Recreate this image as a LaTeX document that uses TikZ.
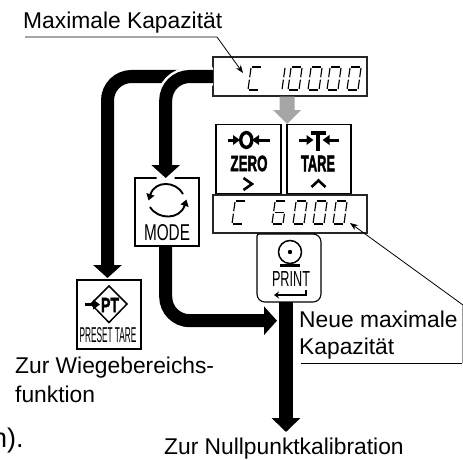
\documentclass[tikz,border=0pt]{standalone}
\usepackage{fontspec}
\setmainfont{Liberation Sans}
\newfontfamily\heavyf[FakeBold=2.5]{Liberation Sans Bold}
\usetikzlibrary{arrows.meta,shapes.geometric}
\newcommand\segT{\draw[seg] (4,-23)--(13.2,-23);}
\newcommand\segB{\draw[seg] (.8,0)--(10,0);}
\newcommand\segM{\draw[seg] (2.6,-11.5)--(11.6,-11.5);}
\newcommand\segUL{\draw[seg] (1.7,-12.8)--(3,-22);}
\newcommand\segUR{\draw[seg] (12.7,-12.8)--(14,-22);}
\newcommand\segLL{\draw[seg] (.1,-1)--(1.4,-10.3);}
\newcommand\segLR{\draw[seg] (11.1,-1)--(12.4,-10.3);}
\newcommand\dgC[2]{\begin{scope}[shift={(#1,#2)}]\segT\segB\segUL\segLL\end{scope}}
\newcommand\dgO[2]{\begin{scope}[shift={(#1,#2)}]\segT\segB\segUL\segLL\segUR\segLR\end{scope}}
\newcommand\dgI[2]{\begin{scope}[shift={(#1,#2)}]\segUR\segLR\end{scope}}
\newcommand\dgS[2]{\begin{scope}[shift={(#1,#2)}]\segT\segB\segUL\segLL\segM\segLR\end{scope}}
\tikzset{
  seg/.style={line width=1.15pt,line cap=butt},
  keybox/.style={draw=black,line width=1.1pt,minimum width=#1,inner sep=0pt,outer sep=0pt},
  dispbox/.style={draw=black!85,line width=1.1pt,inner sep=0pt,outer sep=0pt,minimum width=154pt},
  bigarrow/.style={line width=13pt,rounded corners=24pt,-{Triangle[length=13pt,width=28pt]}},
  halo/.style={line width=18pt,white,rounded corners=24pt},
  minitip/.style={line width=3pt,-{Triangle[length=7pt,width=9.5pt]}},
  leader/.style={line width=.8pt},
  label/.style={anchor=base west,inner sep=0pt,font=\fontsize{22.8}{26}\selectfont}
}
\begin{document}
\begin{tikzpicture}[x=1pt,y=-1pt]
\useasboundingbox (0,0) rectangle (463,460);
% boxes
\node[dispbox,minimum height=39pt] (disp1) at (290,76.5) {};
\node[dispbox,minimum height=38pt] (disp2) at (290,214) {};
\node[keybox=65pt,minimum height=69pt] (zero) at (248.5,159) {};
\node[keybox=64pt,minimum height=69pt] (tare) at (319,159) {};
\node[keybox=64pt,minimum height=68pt] (mode) at (167,212) {};
\node[keybox=64pt,minimum height=69pt] (preset) at (109,314.5) {};
\coordinate (printc) at (289,268);
\draw[line width=1.1pt,rounded corners=2pt] (257,234) -- (313,234) [rounded corners=8pt] -- (321,234) -- (321,302) -- (257,302) [rounded corners=2pt] -- cycle;
\node[inner sep=0pt,minimum width=64pt,minimum height=68pt] (print) at (printc) {};
% black arrows
\coordinate (presetin) at (107.5,278);
\coordinate (modein) at (165.7,178);
\coordinate (modebot) at (165.7,246);
\coordinate (printin) at (277,320.7);
\coordinate (printbot) at (286,302);
\coordinate (nullpt) at (286,432);
\draw[bigarrow] (disp1.west) -| (presetin);
\draw[halo] (disp1.west) -| ([yshift=-15pt]modein);
\draw[bigarrow] (disp1.west) -| (modein);
\draw[bigarrow] (modebot) |- (printin);
\draw[line width=14pt,-{Triangle[length=14pt,width=28pt]}] (printbot) -- (nullpt);
% grey arrow
\fill[black!35] (279.5,96.5) -- (294.5,96.5) -- (294.5,110) -- (301,110) -- (287,124) -- (273,110) -- (279.5,110) -- cycle;
% seven-segment digits
\dgC{248}{90}\dgI{271}{90}\dgO{288}{90}\dgO{308}{90}\dgO{327}{90}\dgO{347}{90}
\dgC{232}{224}\dgS{272}{224}\dgO{293}{224}\dgO{313}{224}\dgO{333}{224}
% ZERO
\draw[line width=3.4pt] (246.3,140) ellipse (5.6pt and 7.4pt);
\draw[minitip] (228,140) -- (240,140);
\draw[minitip] (269.5,140) -- (252,140);
\node[inner sep=0pt] (zerot) at (249,163.5) {\resizebox{37pt}{15.5pt}{\heavyf ZERO}};
\draw[line width=2.6pt] (243.5,178) -- (252,184) -- (243.5,190);
% TARE
\draw[line width=4pt] (310.5,133) -- (325.5,133) (318,132) -- (318,151);
\draw[minitip] (299,140) -- (313.5,140);
\draw[minitip] (339,140) -- (322.5,140);
\node[inner sep=0pt] (taret) at (318,163.5) {\resizebox{34pt}{15.5pt}{\heavyf TARE}};
\draw[line width=2.6pt] (311.5,187) -- (318.5,180.5) -- (325.5,187);
% MODE
\draw[line width=1.9pt,-{Triangle[length=6.5pt,width=8pt]}] (183,194) .. controls (176,181) and (155,180) .. (148.5,200.5);
\draw[line width=1.9pt,-{Triangle[length=6.5pt,width=8pt]}] (150,207) .. controls (158,220) and (180,220) .. (186.5,199.5);
\node[inner sep=0pt] (modet) at (167,233) {\resizebox{46pt}{16pt}{MODE}};
% PRESET
\draw[line width=1.5pt] (109,286) -- (127,304) -- (109,322.5) -- (91,304) -- cycle;
\draw[line width=3pt,-{Triangle[length=7pt,width=9.5pt]}] (85,304.5) -- (100,304.5);
\node[inner sep=0pt] (ptt) at (110,305) {\resizebox{18pt}{14pt}{\heavyf PT}};
\node[inner sep=0pt] (prest) at (108,335) {\resizebox{57pt}{15pt}{PRESET TARE}};
% PRINT
\draw[line width=1.5pt] (290,252) circle (11.5pt);
\fill (290,252) circle (2.2pt);
\draw[line width=2.5pt] (280,265.5) -- (300,265.5);
\node[inner sep=0pt] (printt) at (291,279) {\resizebox{38pt}{15pt}{PRINT}};
\draw[line width=1.2pt,-{Stealth[length=5pt,width=7pt]}] (306,290) -- (306,295) -- (274,295);
% labels
\node[label] (maxcap) at (23,28.5) {Maximale Kapazität};
\node[label] (neue) at (299,327) {Neue maximale};
\node[label] (kap) at (299,354) {Kapazität};
\node[label] (zur) at (15,373) {Zur Wiegebereichs-};
\node[label] (fkt) at (15,402) {funktion};
\node[anchor=base west,inner sep=0pt,font=\fontsize{27}{30}\selectfont] (frag) at (-8,447) {n).};
\node[label] (nullt) at (164,454) {Zur Nullpunktkalibration};
% leaders
\coordinate (la) at (25,37);
\coordinate (lb) at (217,37);
\coordinate (lc) at (243,73);
\coordinate (ld) at (463,305);
\coordinate (le) at (350,223);
\coordinate (lf) at (462,363);
\coordinate (lg) at (301,363);
\draw[leader,-{Stealth[length=8pt,width=6pt]}] (la) -- (lb) -- (lc);
\draw[leader,-{Stealth[length=8pt,width=6pt]}] (ld) -- (le);
\draw[leader] (lg) -- (lf);
\draw[line width=.8pt,black!40] (ld -| lf) -- (lf);
\end{tikzpicture}
\end{document}
